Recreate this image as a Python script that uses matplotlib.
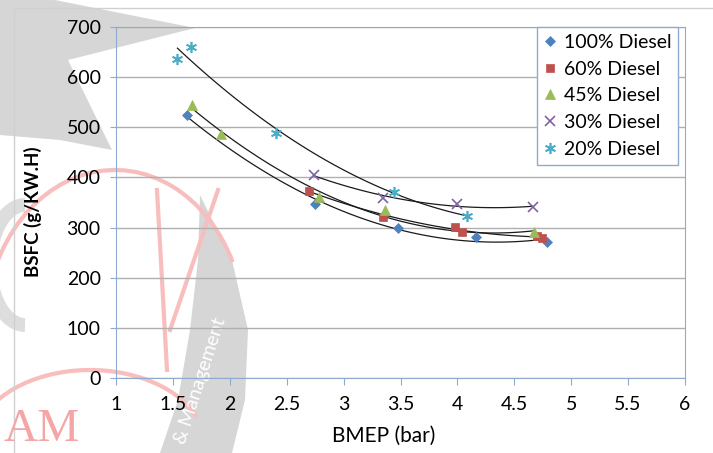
import numpy as np
import matplotlib
matplotlib.use('Agg')
import matplotlib.pyplot as plt
from matplotlib.patches import Polygon, Rectangle, Arc

plt.rcParams['font.family'] = ['Lato', 'DejaVu Sans']

# Данные
labels = ['100% Diesel', '60% Diesel', '45% Diesel', '30% Diesel', '20% Diesel']
x_100 = [1.62, 2.75, 3.48, 4.16, 4.79]
y_100 = [525, 347, 300, 281, 272]
x_60 = [2.70, 3.35, 3.98, 4.04, 4.70, 4.74]
y_60 = [373, 322, 302, 292, 283, 279]
x_45 = [1.67, 1.92, 2.78, 3.36, 4.67]
y_45 = [545, 486, 361, 335, 291]
x_30 = [2.74, 3.35, 4.00, 4.66]
y_30 = [405, 359, 347, 341]
x_20 = [1.54, 1.66, 2.41, 3.44, 4.08]
y_20 = [636, 660, 489, 371, 323]

series_x = [x_100, x_60, x_45, x_30, x_20]
series_y = [y_100, y_60, y_45, y_30, y_20]
colors = ['#4F81BD', '#C0504D', '#9BBB59', '#8064A2', '#4BACC6']
markers = ['D', 's', '^', 'x', (6, 2, 0)]
sizes = [5.5, 6, 7, 7, 8]

fig = plt.figure(figsize=(7.13, 4.53), dpi=100)

# Водяной знак на фоне (приблизительно)
bg = fig.add_axes([0, 0, 1, 1], zorder=0)
bg.set_xlim(0, 713)
bg.set_ylim(453, 0)
bg.axis('off')
gray = '#D6D6D6'
bg.add_patch(Polygon([(0, 0), (55, 0), (195, 28), (68, 60), (112, 150), (60, 140), (0, 135)],
                     closed=True, color=gray, lw=0))
bg.add_patch(Polygon([(200, 195), (232, 260), (248, 330), (245, 400), (232, 453),
                      (160, 453), (178, 400), (190, 330), (198, 260)],
                     closed=True, color=gray, lw=0))
bg.add_patch(Arc((25, 265), 70, 120, theta1=90, theta2=270, color='#DDDDDD', lw=10))
red = '#F8BDBD'
bg.add_patch(Arc((115, 330), 260, 320, theta1=180, theta2=330, color=red, lw=3))
bg.add_patch(Arc((90, 445), 230, 150, theta1=180, theta2=345, color=red, lw=3))
bg.plot([157, 167], [190, 370], color=red, lw=3)
bg.plot([218, 170], [190, 330], color=red, lw=3)
bg.text(3, 451, 'AM', color='#F4A6A6', fontsize=34, family='Liberation Serif', va='bottom')
bg.text(188, 446, '& Management', color='white', fontsize=14, rotation=72,
        rotation_mode='anchor', ha='left', va='bottom')
bg.add_patch(Rectangle((14, 8), 720, 460, fill=False, ec='#D0D0D0', lw=1))

ax = fig.add_axes([116 / 713, 1 - 378 / 453, 569 / 713, 351 / 453], zorder=1)
ax.patch.set_alpha(0)

for xs, ys, c, m, s, lab in zip(series_x, series_y, colors, markers, sizes, labels):
    # полиномиальная линия тренда 2-й степени, как в Excel
    k = np.polyfit(xs, ys, 2)
    xx = np.linspace(min(xs), max(xs), 100)
    ax.plot(xx, np.polyval(k, xx), color='#1A1A1A', lw=0.9, zorder=2)
    ax.plot(xs, ys, linestyle='none', marker=m, color=c, markersize=s,
            markeredgewidth=1.2 if m in ('x', (6, 2, 0)) else 0.5, label=lab, zorder=3)

ax.set_xlim(1, 6)
ax.set_ylim(0, 700)
ax.set_xticks(np.arange(1, 6.01, 0.5))
ax.set_xticklabels(['1', '1.5', '2', '2.5', '3', '3.5', '4', '4.5', '5', '5.5', '6'])
ax.set_yticks(range(0, 701, 100))
ax.grid(axis='y', color='#AFAFAF', lw=1)
ax.set_axisbelow(True)
for sp in ax.spines.values():
    sp.set_color('#8FAAD0')
ax.tick_params(axis='x', direction='out', length=5, color='#8FAAD0', labelsize=14, pad=8)
ax.tick_params(axis='y', direction='out', length=4, color='#8FAAD0', labelsize=14, pad=7)
ax.set_xlabel('BMEP (bar)', fontsize=15)
ax.xaxis.set_label_coords(0.471, -0.135)
ax.set_ylabel('BSFC (g/KW.H)', fontsize=13.5, fontweight='bold')
ax.yaxis.set_label_coords(-0.13, 0.473)

leg = ax.legend(loc='upper right', bbox_to_anchor=(0.988, 1.0), borderaxespad=0,
                fancybox=False, framealpha=1, edgecolor='#8FAAD0', fontsize=14,
                handletextpad=0.35, labelspacing=0.5, handlelength=0.7, borderpad=0.35)
leg.get_frame().set_linewidth(1)

plt.savefig('out.png', dpi=100)
